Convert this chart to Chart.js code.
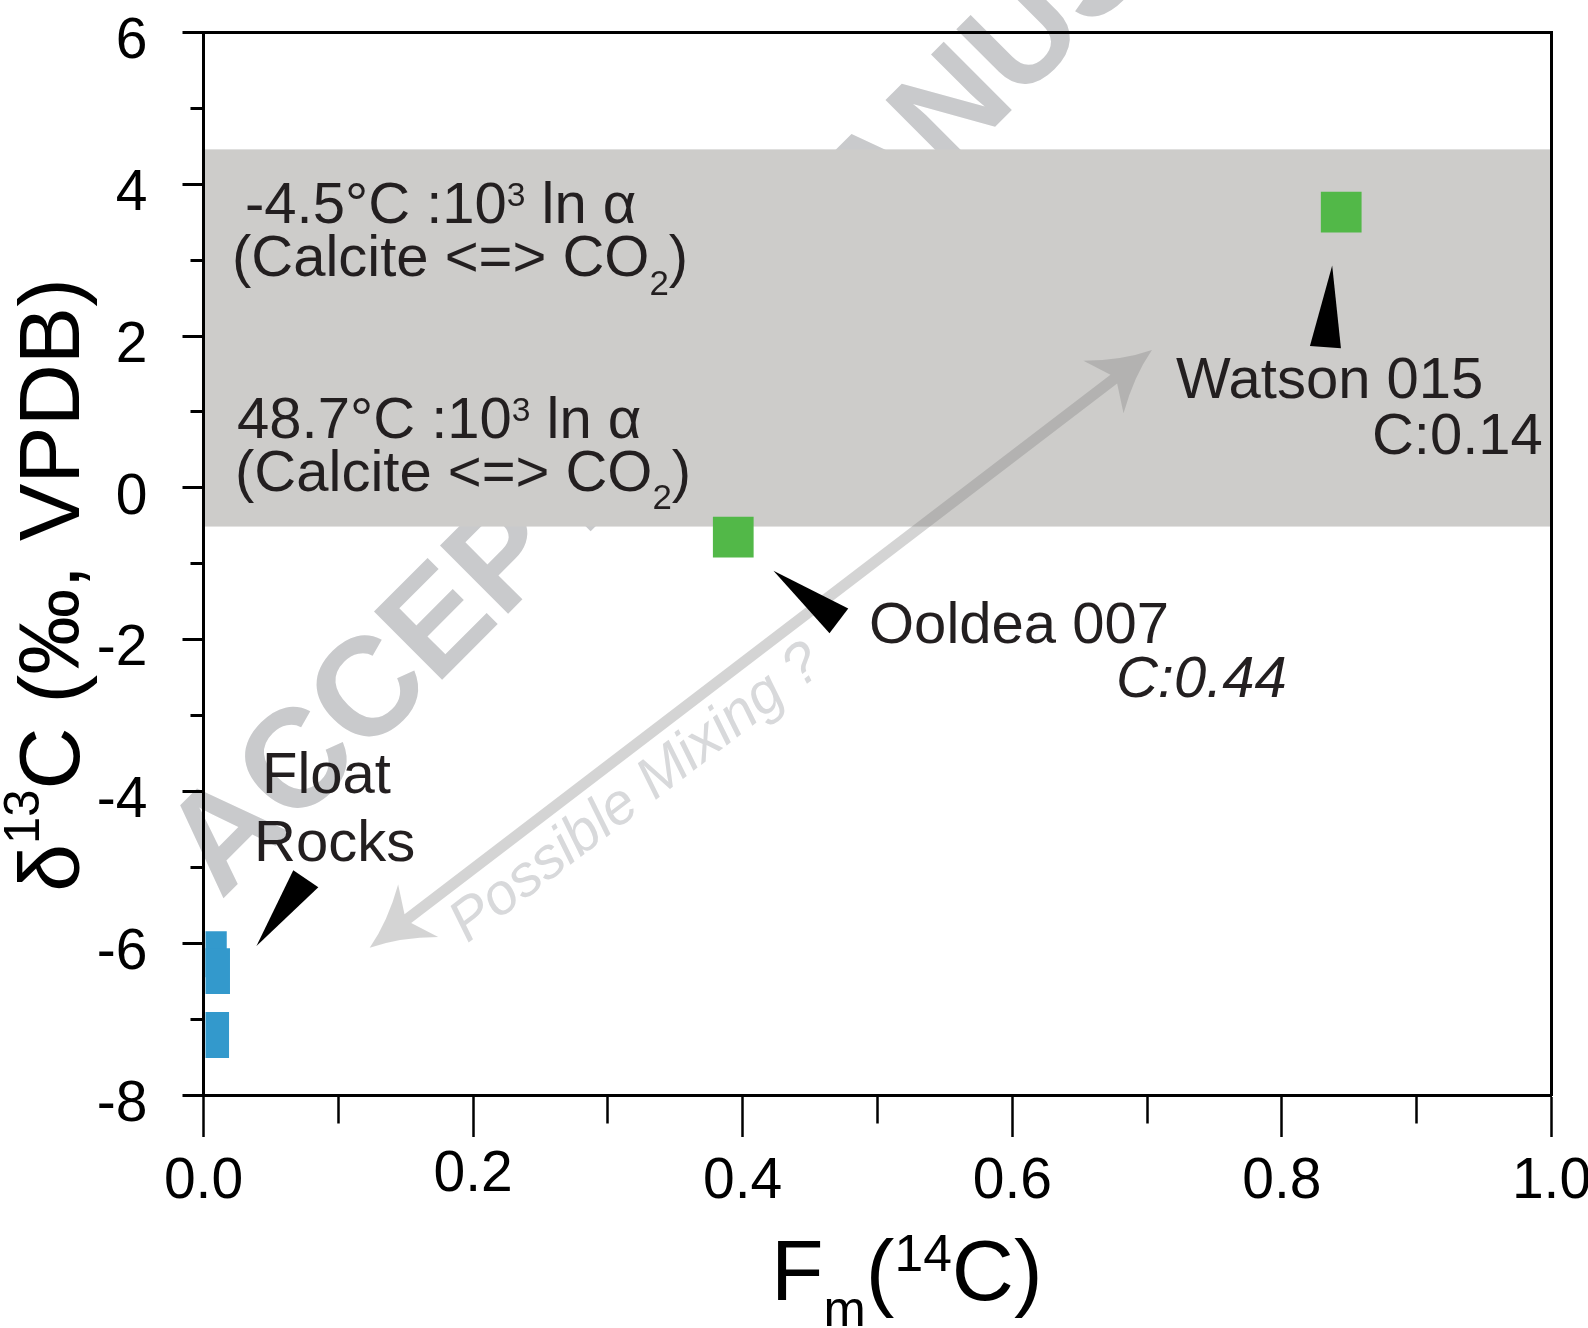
<!DOCTYPE html>
<html>
<head>
<meta charset="utf-8">
<script src="https://cdn.jsdelivr.net/npm/chart.js@4.4.1/dist/chart.umd.min.js"></script>
<style>
  html, body { margin: 0; padding: 0; background: #ffffff; }
  #wrap { width: 1588px; height: 1328px; }
</style>
</head>
<body>
<div id="wrap"><canvas id="c" width="1588" height="1328"></canvas></div>
<script>
// ---------------- DATA ----------------
const floatRocksFm   = [0.0002, 0.0026, 0.0019];
const floatRocksD13C = [-6.145, -6.368, -7.209];
const sampleNames    = ['Ooldea 007', 'Watson 015'];
const samplesFm      = [0.393, 0.844];
const samplesD13C    = [-0.65, 3.634];
const equilibriumBand = [-0.51, 4.46];           // δ13C range (calcite <=> CO2)
const xTickValues = [0, 0.2, 0.4, 0.6, 0.8, 1.0];
const xTickLabels = ['0.0', '0.2', '0.4', '0.6', '0.8', '1.0'];
const yTickValues = [6, 4, 2, 0, -2, -4, -6, -8];
const yTickLabels = ['6', '4', '2', '0', '-2', '-4', '-6', '-8'];

// annotation texts and their anchors (data units)
const annoTexts  = ['-4.5°C :10^{3} ln α', '(Calcite <=> CO_{2})', '48.7°C :10^{3} ln α', '(Calcite <=> CO_{2})',
                    'Watson 015', 'C:0.14', 'Ooldea 007', 'C:0.44', 'Float', 'Rocks'];
const annoFm     = [0.0308, 0.0211, 0.0249, 0.0234, 0.7214, 0.8668, 0.4937, 0.6769, 0.0434, 0.0375];
const annoD13C   = [3.491, 2.789, 0.658, -0.039, 1.188, 0.447, -2.049, -2.759, -4.022, -4.921];
const annoItalic = [false, false, false, false, false, false, false, true, false, false];

// pointer triangles (data units)
const pointerFm   = [[0.8373, 0.8208, 0.8438], [0.4228, 0.4783, 0.4644], [0.0393, 0.0666, 0.0852]];
const pointerD13C = [[2.930, 1.868, 1.838], [-1.092, -1.588, -1.917], [-6.036, -5.039, -5.261]];

// mixing arrow (data units) and its label
const mixArrowFm   = [0.1233, 0.7036];
const mixArrowD13C = [-6.059, 1.816];
const mixLabel = 'Possible Mixing ?';
const mixLabelAt = [0.3215, -4.03];

// watermark
const watermarkText = 'ACCEPTED MANUSCRIPT';
const watermarkAt = [0.0130, -5.440];

// ---------------- STYLE ----------------
const FONT = "'Liberation Sans', Arial, Helvetica, sans-serif";
const TEXT_COLOR = '#231f20';
const X_LABEL_RAISED = ['0.2'];

function parseRich(str) {
  const out = [];
  const re = /(\^\{[^}]*\}|_\{[^}]*\})/g;
  let last = 0, m;
  while ((m = re.exec(str))) {
    if (m.index > last) out.push({ t: str.slice(last, m.index) });
    const tok = m[0];
    out.push({ t: tok.slice(2, -1), sup: tok[0] === '^', sub: tok[0] === '_' });
    last = m.index + tok.length;
  }
  if (last < str.length) out.push({ t: str.slice(last) });
  return out;
}

function drawRich(ctx, str, x, y, size, cfg) {
  const segs = parseRich(str);
  const fontFor = (sz) => `${cfg.style || 'normal'} ${cfg.weight || 'normal'} ${sz}px ${FONT}`;
  const sizeOf = (s) => s.sup ? size * cfg.supScale : (s.sub ? size * cfg.subScale : size);
  const widths = [];
  let total = 0;
  segs.forEach(s => { ctx.font = fontFor(sizeOf(s)); const w = ctx.measureText(s.t).width; widths.push(w); total += w; });
  let cx = cfg.align === 'center' ? x - total / 2 : x;
  ctx.textAlign = 'left';
  ctx.textBaseline = 'alphabetic';
  segs.forEach((s, i) => {
    ctx.font = fontFor(sizeOf(s));
    const dy = s.sup ? -size * cfg.supRaise : (s.sub ? size * cfg.subDrop : 0);
    ctx.fillText(s.t, cx, y + dy);
    cx += widths[i];
  });
}

const near = (a, b) => Math.abs(a - b) < 1e-6;
function xLabel(v) {
  const k = xTickValues.findIndex(t => near(t, v));
  if (k < 0) return '';
  const lab = xTickLabels[k];
  return X_LABEL_RAISED.includes(lab) ? lab : ['', lab];
}
function yLabel(v) {
  const k = yTickValues.findIndex(t => near(t, v));
  if (k < 0) return '';
  return ['', yTickLabels[k]];
}
const isMinorX = (v) => v !== undefined && xTickValues.findIndex(t => near(t, v)) < 0;
const isMinorY = (v) => v !== undefined && yTickValues.findIndex(t => near(t, v)) < 0;

const decorPlugin = {
  id: 'decor',
  beforeDraw(chart) {
    const { ctx, chartArea: a } = chart;
    const xs = chart.scales.x, ys = chart.scales.y;
    ctx.save();
    ctx.fillStyle = '#ffffff';
    ctx.fillRect(0, 0, chart.width, chart.height);
    // watermark
    ctx.translate(xs.getPixelForValue(watermarkAt[0]), ys.getPixelForValue(watermarkAt[1]));
    ctx.rotate(-45 * Math.PI / 180);
    ctx.font = `bold 140px ${FONT}`;
    ctx.fillStyle = '#c9cacc';
    ctx.textAlign = 'left';
    ctx.textBaseline = 'alphabetic';
    ctx.fillText(watermarkText, 0, 0);
    ctx.restore();
    // equilibrium band
    ctx.save();
    ctx.fillStyle = '#cdccca';
    const yTop = ys.getPixelForValue(equilibriumBand[1]);
    const yBot = ys.getPixelForValue(equilibriumBand[0]);
    ctx.fillRect(a.left, yTop, a.right - a.left, yBot - yTop);
    ctx.restore();
  },
  beforeDatasetsDraw(chart) {
    const { ctx } = chart;
    const xs = chart.scales.x, ys = chart.scales.y;
    const A = { x: xs.getPixelForValue(mixArrowFm[0]), y: ys.getPixelForValue(mixArrowD13C[0]) };
    const B = { x: xs.getPixelForValue(mixArrowFm[1]), y: ys.getPixelForValue(mixArrowD13C[1]) };
    const dx = B.x - A.x, dy = B.y - A.y, L = Math.hypot(dx, dy);
    const ux = dx / L, uy = dy / L, nx = -uy, ny = ux;
    const P = (t, o) => [A.x + ux * t + nx * o, A.y + uy * t + ny * o];
    const h = 61, w = 33, d = 48, s = 5.5, c = 0.3;
    ctx.save();
    ctx.fillStyle = 'rgba(130,130,130,0.34)';
    ctx.beginPath();
    ctx.moveTo(...P(L, 0));
    ctx.quadraticCurveTo(...P(L - h / 2, w * c), ...P(L - h, w));
    ctx.lineTo(...P(L - d, s));
    ctx.lineTo(...P(d, s));
    ctx.lineTo(...P(h, w));
    ctx.quadraticCurveTo(...P(h / 2, w * c), ...P(0, 0));
    ctx.quadraticCurveTo(...P(h / 2, -w * c), ...P(h, -w));
    ctx.lineTo(...P(d, -s));
    ctx.lineTo(...P(L - d, -s));
    ctx.lineTo(...P(L - h, -w));
    ctx.quadraticCurveTo(...P(L - h / 2, -w * c), ...P(L, 0));
    ctx.closePath();
    ctx.fill();
    ctx.restore();
    // label along the arrow
    ctx.save();
    ctx.translate(xs.getPixelForValue(mixLabelAt[0]), ys.getPixelForValue(mixLabelAt[1]));
    ctx.rotate(Math.atan2(dy, dx));
    ctx.font = `italic 58px ${FONT}`;
    ctx.fillStyle = '#d8d9db';
    ctx.textAlign = 'center';
    ctx.textBaseline = 'middle';
    ctx.fillText(mixLabel, 0, 0);
    ctx.restore();
  },
  afterDatasetsDraw(chart) {
    const { ctx } = chart;
    const xs = chart.scales.x, ys = chart.scales.y;
    // pointer triangles
    ctx.save();
    ctx.fillStyle = '#000000';
    pointerFm.forEach((fx, i) => {
      ctx.beginPath();
      fx.forEach((v, j) => {
        const X = xs.getPixelForValue(v), Y = ys.getPixelForValue(pointerD13C[i][j]);
        if (j === 0) ctx.moveTo(X, Y); else ctx.lineTo(X, Y);
      });
      ctx.closePath();
      ctx.fill();
    });
    ctx.restore();
    // annotation texts
    ctx.save();
    ctx.fillStyle = TEXT_COLOR;
    annoTexts.forEach((t, i) => {
      drawRich(ctx, t, xs.getPixelForValue(annoFm[i]), ys.getPixelForValue(annoD13C[i]), 58,
        { style: annoItalic[i] ? 'italic' : 'normal', supScale: 0.58, supRaise: 0.30, subScale: 0.6, subDrop: 0.32 });
    });
    ctx.restore();
  },
  afterDraw(chart) {
    const { ctx } = chart;
    ctx.save();
    ctx.fillStyle = '#000000';
    // y-axis title
    ctx.save();
    ctx.translate(79, 585);
    ctx.rotate(-Math.PI / 2);
    drawRich(ctx, 'δ^{13}C (‰, VPDB)', 0, 0, 86, { align: 'center', supScale: 0.57, supRaise: 0.46, subScale: 0.6, subDrop: 0.3 });
    ctx.restore();
    // x-axis title
    drawRich(ctx, 'F_{m}(^{14}C)', 771, 1300, 86, { supScale: 0.6, supRaise: 0.34, subScale: 0.59, subDrop: 0.30 });
    ctx.restore();
  }
};

const sq = (xsArr, ysArr) => xsArr.map((x, i) => ({ x, y: ysArr[i] }));

new Chart(document.getElementById('c').getContext('2d'), {
  type: 'scatter',
  data: {
    datasets: [
      {
        label: 'Float Rocks',
        data: sq(floatRocksFm, floatRocksD13C),
        backgroundColor: '#3399cc',
        pointStyle: 'rect', pointRadius: 32.5, pointHoverRadius: 32.5, borderWidth: 0,
        clip: { left: -2, top: 0, right: 0, bottom: 0 },
        xAxisID: 'x', yAxisID: 'y'
      },
      {
        label: 'Samples',
        data: sq(samplesFm, samplesD13C),
        backgroundColor: '#52b848',
        pointStyle: 'rect', pointRadius: 28.8, pointHoverRadius: 28.8, borderWidth: 0,
        clip: 0,
        xAxisID: 'x', yAxisID: 'y'
      }
    ]
  },
  options: {
    responsive: false,
    animation: false,
    devicePixelRatio: 1,
    events: [],
    layout: { padding: { left: 0, top: 31, right: 36.5, bottom: 0 } },
    plugins: { legend: { display: false }, tooltip: { enabled: false }, title: { display: false } },
    scales: {
      x: {
        type: 'linear', position: 'bottom', min: 0, max: 1,
        afterFit(s) { s.height = 233; s.paddingLeft = 0; s.paddingRight = 0; },
        border: { display: true, color: '#000', width: 3 },
        grid: {
          display: true, drawOnChartArea: false, drawTicks: true, tickLength: 42,
          tickColor: '#000', tickWidth: 2.5,
          tickBorderDash: (c) => (c.tick && isMinorX(c.tick.value)) ? [26.5, 200] : []
        },
        ticks: {
          stepSize: 0.1, autoSkip: false, maxRotation: 0, minRotation: 0, padding: 35,
          color: '#000', font: { family: FONT, size: 57, lineHeight: '7px' },
          callback: (v) => xLabel(v)
        }
      },
      y: {
        type: 'linear', position: 'left', min: -8, max: 6,
        afterFit(s) { s.width = 203.5; s.paddingTop = 0; s.paddingBottom = 0; },
        border: { display: true, color: '#000', width: 3 },
        grid: {
          display: true, drawOnChartArea: false, drawTicks: true, tickLength: 21,
          tickColor: '#000', tickWidth: 3,
          tickBorderDash: (c) => (c.tick && isMinorY(c.tick.value)) ? [0, 8, 200, 0] : []
        },
        ticks: {
          stepSize: 1, autoSkip: false, padding: 35,
          color: '#000', font: { family: FONT, size: 57, lineHeight: '20px' },
          callback: (v) => yLabel(v)
        }
      },
      x2: {
        type: 'linear', position: 'top', min: 0, max: 1,
        afterFit(s) { s.height = 0; s.paddingLeft = 0; s.paddingRight = 0; },
        border: { display: true, color: '#000', width: 3 },
        grid: { display: true, drawOnChartArea: false, drawTicks: false },
        ticks: { display: false }
      },
      y2: {
        type: 'linear', position: 'right', min: -8, max: 6,
        afterFit(s) { s.width = 0; s.paddingTop = 0; s.paddingBottom = 0; },
        border: { display: true, color: '#000', width: 3 },
        grid: { display: true, drawOnChartArea: false, drawTicks: false },
        ticks: { display: false }
      }
    }
  },
  plugins: [decorPlugin]
});
</script>
</body>
</html>
